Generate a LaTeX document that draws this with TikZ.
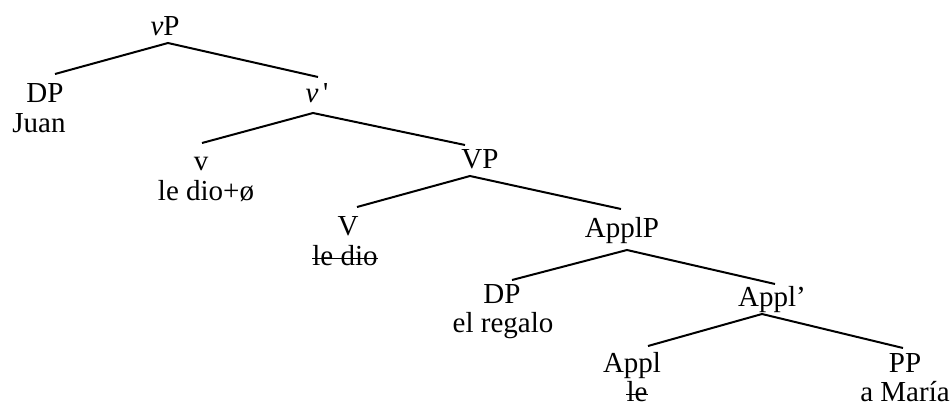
\documentclass[tikz,border=0pt]{standalone}
\usepackage{fontspec}
\setmainfont{Liberation Serif}
\newfontfamily\rawserif{Liberation Serif}
\begin{document}
\begin{tikzpicture}[x=1pt,y=-1pt,
  lbl/.style={anchor=base, inner sep=0pt, font=\fontsize{29}{33}\selectfont},
  branch/.style={line width=2pt},
  struck/.style={line width=1.5pt}]
\useasboundingbox (0,0) rectangle (952,407);

% category labels and their words
\node[lbl] (vP)     at (165,35)  {\textit{v}P};
\node[lbl] (DPa)    at (45,102)  {DP};
\node[lbl] (Juan)   at (39,132)  {Juan};
\node[lbl] (vbar)   at (317,102) {\textit{v}\,{\rawserif '}};
\node[lbl] (v)      at (201,170) {v};
\node[lbl] (ledioz) at (206,200) {le dio+ø};
\node[lbl] (VP)     at (480,168) {VP};
\node[lbl] (V)      at (348,235) {V};
\node[lbl] (ledio)  at (345,265) {le dio};
\node[lbl] (ApplP)  at (622,237) {ApplP};
\node[lbl] (DPb)    at (502,303) {DP};
\node[lbl] (regalo) at (503,332) {el regalo};
\node[lbl] (Applb)  at (772,306) {Appl’};
\node[lbl] (Appl)   at (632,372) {Appl};
\node[lbl] (le)     at (637,401) {le};
\node[lbl] (PP)     at (905,372) {PP};
\node[lbl] (Maria)  at (905,401) {a María};

% strike-through of the copied verb and clitic
\draw[struck] ([yshift=6.5pt]ledio.base west) -- ([yshift=6.5pt]ledio.base east);
\draw[struck] ([yshift=6.5pt]le.base west) -- ([yshift=6.5pt]le.base east);

% branch points below each mother and top ends above each daughter
\coordinate (vP-m)    at (168,43);
\coordinate (DPa-d)   at (55,74);
\coordinate (vbar-d)  at (318,77);
\coordinate (vbar-m)  at (313,113);
\coordinate (v-d)     at (202,143);
\coordinate (VP-d)    at (465,145);
\coordinate (VP-m)    at (470,176);
\coordinate (V-d)     at (357,207);
\coordinate (ApplP-d) at (621,209);
\coordinate (ApplP-m) at (627,250);
\coordinate (DPb-d)   at (512,280);
\coordinate (Applb-d) at (775,284);
\coordinate (Applb-m) at (762,314);
\coordinate (Appl-d)  at (648,346);
\coordinate (PP-d)    at (903,348);

\draw[branch] (DPa-d) -- (vP-m) -- (vbar-d);
\draw[branch] (v-d) -- (vbar-m) -- (VP-d);
\draw[branch] (V-d) -- (VP-m) -- (ApplP-d);
\draw[branch] (DPb-d) -- (ApplP-m) -- (Applb-d);
\draw[branch] (Appl-d) -- (Applb-m) -- (PP-d);
\end{tikzpicture}
\end{document}
